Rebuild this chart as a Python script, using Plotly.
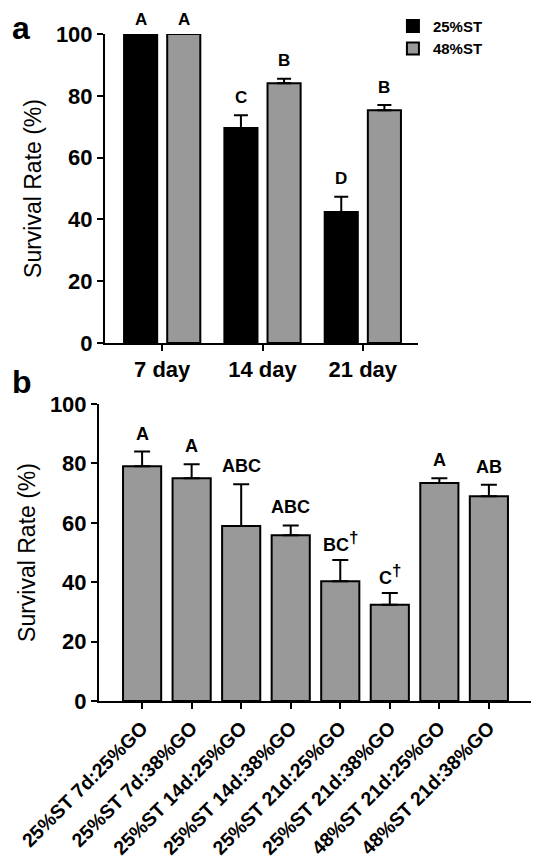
import plotly.graph_objects as go

# panel a data
days = ['7 day', '14 day', '21 day']
st25_mean = [100, 69.6, 42.4]
st25_err = [0, 4.1, 4.9]
st48_mean = [100, 84.1, 75.3]
st48_err = [0, 1.4, 1.7]
st25_letters = ['A', 'C', 'D']
st48_letters = ['A', 'B', 'B']

# panel b data
groups = ['25%ST 7d:25%GO', '25%ST 7d:38%GO', '25%ST 14d:25%GO', '25%ST 14d:38%GO',
          '25%ST 21d:25%GO', '25%ST 21d:38%GO', '48%ST 21d:25%GO', '48%ST 21d:38%GO']
go_mean = [79.0, 75.0, 58.9, 55.8, 40.3, 32.4, 73.4, 68.9]
go_err = [5.0, 4.7, 14.1, 3.3, 7.2, 4.0, 1.6, 3.9]
DAG = "<sup><span style='font-size:17px'>†</span></sup>"
go_letters = ['A', 'A', 'ABC', 'ABC', 'BC' + DAG, 'C' + DAG, 'A', 'AB']

FONT = 'Liberation Sans, Arial, sans-serif'
GRAY = '#999999'

fig = go.Figure()

fig.add_trace(go.Bar(x=days, y=st25_mean, name='25%ST', width=0.33, offset=-0.38,
                     marker=dict(color='black', line=dict(color='black', width=2)),
                     error_y=dict(type='data', symmetric=False, array=st25_err,
                                  arrayminus=[0] * len(days), color='black', thickness=2, width=7),
                     xaxis='x', yaxis='y'))
fig.add_trace(go.Bar(x=days, y=st48_mean, name='48%ST', width=0.33, offset=0.05,
                     marker=dict(color=GRAY, line=dict(color='black', width=2)),
                     error_y=dict(type='data', symmetric=False, array=st48_err,
                                  arrayminus=[0] * len(days), color='black', thickness=2, width=7),
                     xaxis='x', yaxis='y'))
fig.add_trace(go.Bar(x=groups, y=go_mean, showlegend=False, width=0.77,
                     marker=dict(color=GRAY, line=dict(color='black', width=2)),
                     error_y=dict(type='data', symmetric=False, array=go_err,
                                  arrayminus=[0] * len(groups), color='black', thickness=2, width=8),
                     xaxis='x2', yaxis='y2'))

annotations = []
for i, d in enumerate(days):
    # bars at 100% have no error bar; keep the letter inside the page
    for off, mean, err, lab in ((-0.215, st25_mean, st25_err, st25_letters),
                                (0.215, st48_mean, st48_err, st48_letters)):
        annotations.append(dict(x=i + off, y=mean[i] + err[i], xref='x', yref='y',
                                text=lab[i], showarrow=False,
                                yshift=18 if err[i] > 0 else 14,
                                font=dict(size=17, weight='bold')))
for g, m, e, t in zip(groups, go_mean, go_err, go_letters):
    annotations.append(dict(x=g, y=m + e, xref='x2', yref='y2', text=t, showarrow=False,
                            yshift=18, font=dict(size=18, weight='bold')))

annotations.append(dict(x=0.003, y=1.0, xref='paper', yref='paper', text='a',
                        showarrow=False, xanchor='left', yanchor='top',
                        font=dict(size=32, weight='bold')))
annotations.append(dict(x=0.003, y=1 - 374 / 864, xref='paper', yref='paper', text='b',
                        showarrow=False, xanchor='left', yanchor='middle',
                        font=dict(size=32, weight='bold')))

axis_style = dict(showline=True, linewidth=2, linecolor='black', ticks='outside',
                  ticklen=6, tickwidth=2, tickcolor='black', showgrid=False,
                  zeroline=False, automargin=False)

fig.update_layout(
    width=546, height=864,
    margin=dict(l=0, r=0, t=0, b=0),
    paper_bgcolor='white', plot_bgcolor='white',
    font=dict(family=FONT, color='black'),
    barmode='overlay',
    showlegend=True,
    legend=dict(x=0.705, y=0.998, xanchor='left', yanchor='top', bgcolor='rgba(0,0,0,0)',
                font=dict(size=15, weight='bold'), tracegroupgap=0),
    xaxis=dict(domain=[97 / 546, 410 / 546], range=[-0.57, 2.55],
               tickfont=dict(size=22, weight='bold'), anchor='y', **axis_style),
    yaxis=dict(domain=[1 - 335 / 864, 1 - 26 / 864], range=[0, 100], dtick=20,
               tickfont=dict(size=22, weight='bold'), anchor='x',
               title=dict(text='Survival Rate (%)', font=dict(size=23), standoff=8),
               **axis_style),
    xaxis2=dict(domain=[91 / 546, 523 / 546], range=[-0.87, 7.85], tickangle=-45,
                tickfont=dict(size=19.5, weight='bold'), anchor='y2', **axis_style),
    yaxis2=dict(domain=[1 - 693 / 864, 1 - 396 / 864], range=[0, 100], dtick=20,
                tickfont=dict(size=22, weight='bold'), anchor='x2',
                title=dict(text='Survival Rate (%)', font=dict(size=23), standoff=8),
                **axis_style),
    annotations=annotations,
)

fig.write_html("out.html")
